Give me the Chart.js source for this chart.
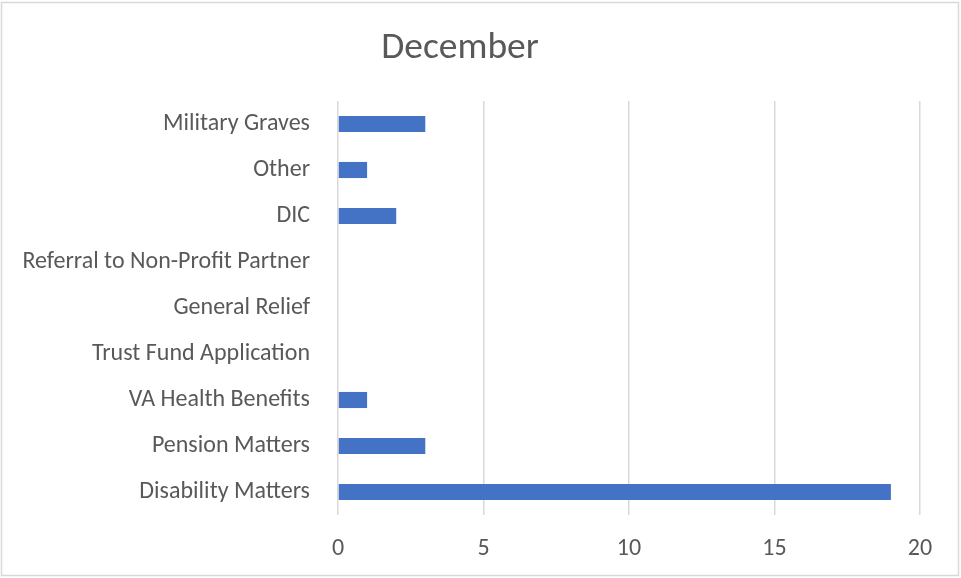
<!DOCTYPE html>
<html lang="en">
<head>
    <meta charset="UTF-8">
    <title>December</title>
    <style>
        body {
            margin: 0;
            background: #ffffff;
        }
        .chart-box {
            width: 961px;
            height: 578px;
        }
    </style>
</head>
<body>

<div class="chart-box">
    <canvas id="grafico" width="961" height="578"></canvas>
</div>

<script src="https://cdn.jsdelivr.net/npm/chart.js"></script>
<script>
    // dados (de cima para baixo)
    const categorias = [
        'Military Graves',
        'Other',
        'DIC',
        'Referral to Non-Profit Partner',
        'General Relief',
        'Trust Fund Application',
        'VA Health Benefits',
        'Pension Matters',
        'Disability Matters'
    ];
    const valores = [3, 1, 2, 0, 0, 0, 1, 3, 19];
    const ticksX = [0, 5, 10, 15, 20];

    const fonte = "Carlito, Calibri, 'Open Sans', sans-serif";
    const cinzaTexto = '#595959';
    const cinzaGrade = '#d9d9d9';

    // moldura clara em volta do gráfico
    const moldura = {
        id: 'moldura',
        beforeDraw(chart) {
            const ctx = chart.ctx;
            ctx.save();
            ctx.strokeStyle = cinzaGrade;
            ctx.lineWidth = 1.5;
            ctx.strokeRect(1.5, 2.5, 957, 573);
            ctx.restore();
        }
    };

    const ctx = document.getElementById('grafico').getContext('2d');
    new Chart(ctx, {
        type: 'bar',
        data: {
            labels: categorias,
            datasets: [{
                label: 'December',
                data: valores,
                backgroundColor: '#4472c4',
                borderWidth: 0,
                categoryPercentage: 1,
                barPercentage: 0.35
            }]
        },
        plugins: [moldura],
        options: {
            indexAxis: 'y',
            responsive: false,
            animation: false,
            layout: {
                padding: { top: 0, right: 41, bottom: 0, left: 0 }
            },
            plugins: {
                legend: { display: false },
                tooltip: { enabled: false },
                title: {
                    display: true,
                    text: 'December',
                    color: cinzaTexto,
                    font: { family: fonte, size: 37.5, weight: 'normal' },
                    padding: { top: 26, bottom: 30 }
                }
            },
            scales: {
                x: {
                    min: 0,
                    max: 20,
                    afterBuildTicks(scale) {
                        scale.ticks = ticksX.map(v => ({ value: v }));
                    },
                    afterFit(scale) {
                        scale.height = 63;
                    },
                    grid: {
                        color: cinzaGrade,
                        lineWidth: 1.5,
                        drawTicks: false
                    },
                    border: { display: false },
                    ticks: {
                        color: cinzaTexto,
                        font: { family: fonte, size: 24 },
                        padding: 20
                    }
                },
                y: {
                    afterFit(scale) {
                        scale.width = 338;
                    },
                    grid: { display: false, drawTicks: false },
                    border: { display: false },
                    ticks: {
                        color: cinzaTexto,
                        font: { family: fonte, size: 24 },
                        padding: 28
                    }
                }
            }
        }
    });
</script>

</body>
</html>
